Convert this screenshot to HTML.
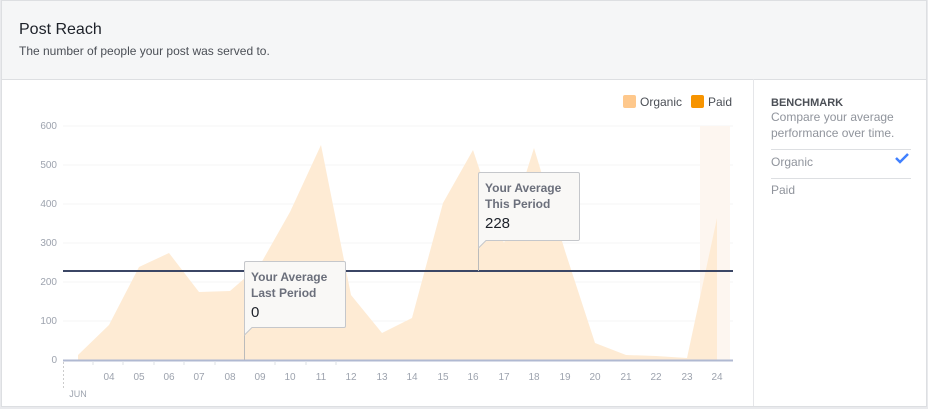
<!DOCTYPE html>
<html><head><meta charset="utf-8"><style>
body{margin:0;width:928px;height:409px;background:#e9eaed;font-family:"Liberation Sans",sans-serif;overflow:hidden}
.wrap{position:absolute;left:1px;top:0;width:926px;height:407px;background:#fff;border:1px solid #dddfe2;box-sizing:border-box}
.hdr{position:absolute;left:0;top:0;right:0;height:78px;background:#f5f6f7;border-bottom:1px solid #dddfe2}
.t{position:absolute;left:17px;top:20px;font-size:16px;color:#1d2129}
.s{position:absolute;left:17px;top:43px;font-size:12px;color:#4b4f56}
</style></head><body>
<div class="wrap">
<div class="hdr"><div class="t">Post Reach</div><div class="s">The number of people your post was served to.</div></div>
</div>
<svg width="928" height="409" style="position:absolute;left:0;top:0" font-family="Liberation Sans, sans-serif">
<line x1="753.5" y1="79" x2="753.5" y2="406" stroke="#e5e6e9"/>
<g stroke="#f5f5f5">
<line x1="63" y1="126" x2="733" y2="126"/><line x1="63" y1="165" x2="733" y2="165"/><line x1="63" y1="204" x2="733" y2="204"/><line x1="63" y1="243" x2="733" y2="243"/><line x1="63" y1="282" x2="733" y2="282"/><line x1="63" y1="321" x2="733" y2="321"/>
</g>
<rect x="700" y="126" width="30" height="234" fill="#fdf6f0"/>
<g font-size="10" fill="#9da3ae" text-anchor="end">
<text x="57" y="129">600</text><text x="57" y="168">500</text><text x="57" y="207">400</text><text x="57" y="246">300</text><text x="57" y="285">200</text><text x="57" y="324">100</text><text x="57" y="363">0</text>
</g>
<polygon fill="#feebd4" points="78,360 78,355 109,325 139,267 169,253 199,292 230,291 260,265 290,212 321,145 351,295 382,333 412,318 443,203 473,150 504,243 534,148 565,251 595,343 626,355 656,356 687,358 717,218 717,360"/>
<line x1="63" y1="271" x2="733" y2="271" stroke="#3b4665" stroke-width="2"/>
<line x1="63" y1="360.5" x2="733" y2="360.5" stroke="#b0b9d2" stroke-width="2"/>
<line x1="63.5" y1="362" x2="63.5" y2="388" stroke="#ccc" stroke-dasharray="2,2"/>
<g stroke="#dde0e6">
<line x1="93" y1="361" x2="93" y2="365"/><line x1="123" y1="361" x2="123" y2="365"/><line x1="154" y1="361" x2="154" y2="365"/><line x1="184" y1="361" x2="184" y2="365"/><line x1="215" y1="361" x2="215" y2="365"/><line x1="275" y1="361" x2="275" y2="365"/><line x1="306" y1="361" x2="306" y2="365"/><line x1="336" y1="361" x2="336" y2="365"/>
</g>
<g font-size="10" fill="#9da3ae" text-anchor="middle">
<text x="109" y="380">04</text><text x="139" y="380">05</text><text x="169" y="380">06</text><text x="199" y="380">07</text><text x="230" y="380">08</text><text x="260" y="380">09</text><text x="290" y="380">10</text><text x="321" y="380">11</text><text x="351" y="380">12</text><text x="382" y="380">13</text><text x="412" y="380">14</text><text x="443" y="380">15</text><text x="473" y="380">16</text><text x="504" y="380">17</text><text x="534" y="380">18</text><text x="565" y="380">19</text><text x="595" y="380">20</text><text x="626" y="380">21</text><text x="656" y="380">22</text><text x="687" y="380">23</text><text x="717" y="380">24</text>
<text x="78" y="397" font-size="9">JUN</text>
</g>
<line x1="244.5" y1="327" x2="244.5" y2="360" stroke="#bbb"/>
<path d="M247.5,261.5 H344 a1.5,1.5 0 0 1 1.5,1.5 V326 a1.5,1.5 0 0 1 -1.5,1.5 H252 L244.5,335 V263 a1.5,1.5 0 0 1 1.5,-1.5 Z" fill="#f9f8f6" stroke="#c5c7cb"/>
<text x="251" y="281" font-size="12" font-weight="bold" fill="#6b6f7b">Your Average</text>
<text x="251" y="297" font-size="12" font-weight="bold" fill="#6b6f7b">Last Period</text>
<text x="251" y="317" font-size="15" fill="#1d2129">0</text>
<line x1="478.5" y1="239" x2="478.5" y2="271" stroke="#bbb"/>
<path d="M481.5,172.5 H578 a1.5,1.5 0 0 1 1.5,1.5 V239 a1.5,1.5 0 0 1 -1.5,1.5 H486 L478.5,248 V174 a1.5,1.5 0 0 1 1.5,-1.5 Z" fill="#f9f8f6" stroke="#c5c7cb"/>
<text x="485" y="192" font-size="12" font-weight="bold" fill="#6b6f7b">Your Average</text>
<text x="485" y="208" font-size="12" font-weight="bold" fill="#6b6f7b">This Period</text>
<text x="485" y="228" font-size="15" fill="#1d2129">228</text>
<rect x="623" y="95" width="13" height="13" rx="2" fill="#fec88c"/>
<text x="640" y="106" font-size="12" fill="#4b4f56">Organic</text>
<rect x="691" y="95" width="13" height="13" rx="2" fill="#f79400"/>
<text x="708" y="106" font-size="12" fill="#4b4f56">Paid</text>
<text x="771" y="106" font-size="11" font-weight="bold" fill="#4b4f56">BENCHMARK</text>
<text x="771" y="121" font-size="12" fill="#90949c">Compare your average</text>
<text x="771" y="137" font-size="12" fill="#90949c">performance over time.</text>
<line x1="771" y1="149.5" x2="911" y2="149.5" stroke="#dddfe2"/>
<text x="771" y="166" font-size="12" fill="#90949c">Organic</text>
<path d="M896,158 l4,4 l8,-8" fill="none" stroke="#4080ff" stroke-width="2.5"/>
<line x1="771" y1="178.5" x2="911" y2="178.5" stroke="#dddfe2"/>
<text x="771" y="194" font-size="12" fill="#90949c">Paid</text>
</svg>
</body></html>
